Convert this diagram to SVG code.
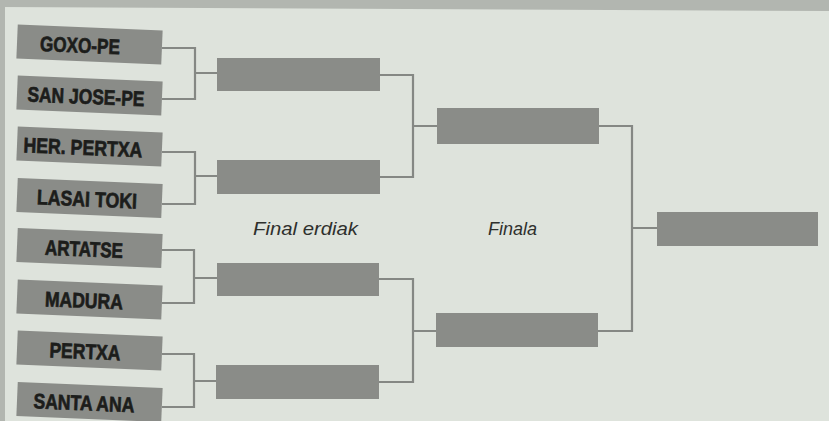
<svg xmlns="http://www.w3.org/2000/svg" width="829" height="421" viewBox="0 0 829 421">
<style>
.bg{fill:#dee3dc}
.band{fill:#b2b6b0}
.box{fill:#8a8c88}
.team{font-family:"Liberation Sans",Arial,sans-serif;font-weight:bold;font-size:21px;fill:#1c1d1b;stroke:#1c1d1b;stroke-width:0.7;text-anchor:middle}
.lbl{font-family:"Liberation Sans",Arial,sans-serif;font-style:italic;font-size:18px;fill:#2e302d;text-anchor:middle}
.con{fill:none;stroke:#858884;stroke-width:2.2}
</style>
<rect class="bg" x="0" y="0" width="829" height="421"/>
<polygon class="band" points="0,0 829,0 829,11 0,7"/>
<rect class="band" x="0" y="0" width="5" height="421"/>

<g id="connectors">
<path class="con" d="M162,48 H195 V99 H162 M195,73 H217"/>
<path class="con" d="M162,152 H195 V204 H162 M195,176 H217"/>
<path class="con" d="M162,250 H194 V303 H162 M194,278 H217"/>
<path class="con" d="M162,354 H194 V407 H162 M194,381 H217"/>
<path class="con" d="M380,75 H413 V177 H380 M413,126 H437"/>
<path class="con" d="M379,279 H413 V382 H379 M413,331 H436"/>
<path class="con" d="M598,126 H632 V331 H598 M632,228 H657"/>
</g>

<g id="t1" transform="rotate(2.4 89.5 44.5)"><rect class="box" x="17" y="27.5" width="145" height="34"/><text class="team" x="80" y="53" textLength="80" lengthAdjust="spacingAndGlyphs">GOXO-PE</text></g>
<g id="t2" transform="rotate(2.4 89.5 95.5)"><rect class="box" x="17" y="78.5" width="145" height="34"/><text class="team" x="86" y="104" textLength="117" lengthAdjust="spacingAndGlyphs">SAN JOSE-PE</text></g>
<g id="t3" transform="rotate(2.4 89.5 146.5)"><rect class="box" x="17" y="129.5" width="145" height="34"/><text class="team" x="83" y="155" textLength="119" lengthAdjust="spacingAndGlyphs">HER. PERTXA</text></g>
<g id="t4" transform="rotate(2.4 89.5 198)"><rect class="box" x="17" y="181" width="145" height="34"/><text class="team" x="87" y="206.5" textLength="100" lengthAdjust="spacingAndGlyphs">LASAI TOKI</text></g>
<g id="t5" transform="rotate(2.4 89.5 248)"><rect class="box" x="17" y="231" width="145" height="34"/><text class="team" x="84" y="256.5" textLength="78" lengthAdjust="spacingAndGlyphs">ARTATSE</text></g>
<g id="t6" transform="rotate(2.4 89.5 299.5)"><rect class="box" x="17" y="282.5" width="145" height="34"/><text class="team" x="84" y="308" textLength="78" lengthAdjust="spacingAndGlyphs">MADURA</text></g>
<g id="t7" transform="rotate(2.4 89.5 350.5)"><rect class="box" x="17" y="333.5" width="145" height="34"/><text class="team" x="85" y="359" textLength="71" lengthAdjust="spacingAndGlyphs">PERTXA</text></g>
<g id="t8" transform="rotate(2.4 89.5 402)"><rect class="box" x="17" y="385" width="145" height="34"/><text class="team" x="84" y="410.5" textLength="101" lengthAdjust="spacingAndGlyphs">SANTA ANA</text></g>

<g id="q1"><rect class="box" x="217" y="58" width="163" height="33"/></g>
<g id="q2"><rect class="box" x="217" y="160" width="163" height="34"/></g>
<g id="q3"><rect class="box" x="217" y="263" width="162" height="33"/></g>
<g id="q4"><rect class="box" x="216" y="365" width="163" height="34"/></g>

<g id="s1"><rect class="box" x="437" y="108" width="162" height="36"/></g>
<g id="s2"><rect class="box" x="436" y="313" width="162" height="34"/></g>

<g id="f1"><rect class="box" x="657" y="212" width="161" height="34"/></g>

<text class="lbl" x="305.5" y="235" textLength="105" lengthAdjust="spacingAndGlyphs">Final erdiak</text>
<text class="lbl" x="512.5" y="235">Finala</text>
</svg>
